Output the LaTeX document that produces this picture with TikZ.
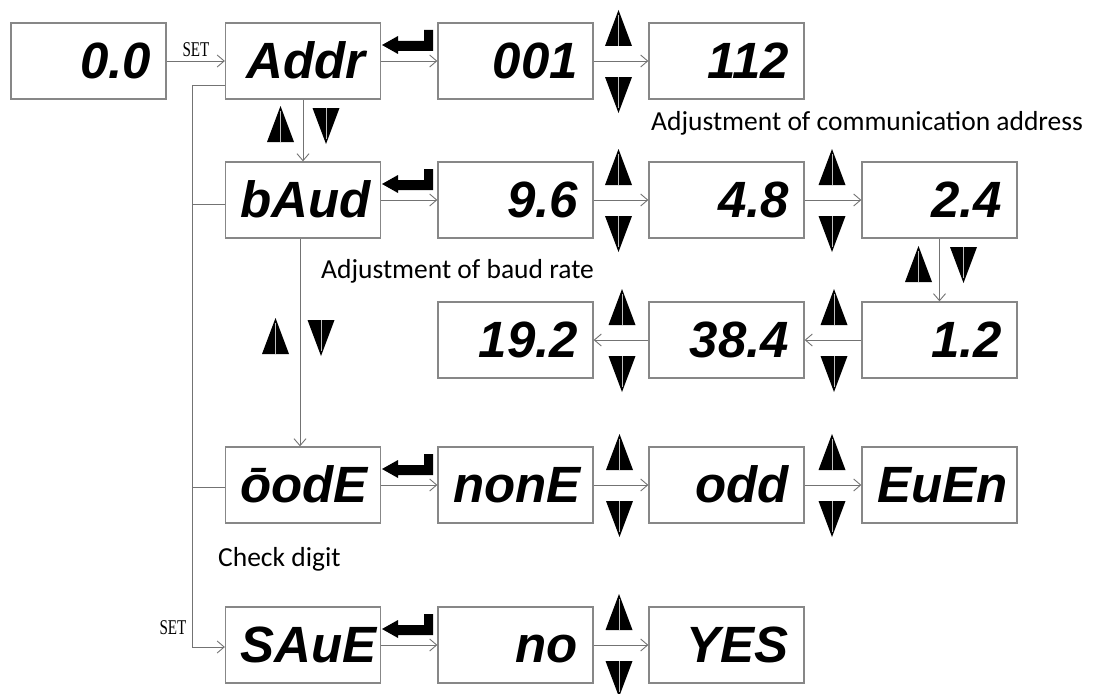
\documentclass[tikz,border=0pt]{standalone}
\usepackage{fontspec}
\usepackage{graphicx}
\usetikzlibrary{arrows.meta,calc}
\newfontfamily\segfont{Liberation Sans}
\newfontfamily\labfont{Carlito}
\newfontfamily\setfont{Liberation Serif}
\definecolor{boxgray}{RGB}{135,135,135}
\definecolor{linegray}{RGB}{115,115,115}
\newcommand\TriUp[2]{\fill[black] (#1-13.5,#2+36) -- (#1+13.5,#2+36) -- (#1,#2) -- cycle;
  \draw[white!75!black, line width=0.5pt] (#1,#2+5) -- (#1,#2+36);}
\newcommand\TriDown[2]{\fill[black] (#1-13.5,#2) -- (#1+13.5,#2) -- (#1,#2+36) -- cycle;
  \draw[white!75!black, line width=0.5pt] (#1,#2) -- (#1,#2+31);}
\newcommand\TriPair[2]{\TriUp{#1}{#2-51}\TriDown{#1}{#2+16}}
\newcommand\EnterKey[2]{\fill[black] (#1,#2) -- (#1,#2+21) -- (#1-35,#2+21) -- (#1-35,#2+24)
  -- (#1-51,#2+15) -- (#1-35,#2+6) -- (#1-35,#2+11) -- (#1-9,#2+11) -- (#1-9,#2) -- cycle;}
\tikzset{
  disp/.style={draw=boxgray, line width=1.3pt, minimum height=76pt, text width=125pt,
    text height=34pt, text depth=0pt,
    inner xsep=15pt, inner ysep=0pt, align=right,
    font=\segfont\bfseries\itshape\fontsize{51}{51}\selectfont},
  conn/.style={draw=linegray, line width=0.9pt,
    -{Straight Barb[length=7pt,width=12pt,line width=0.9pt]}},
  plain/.style={draw=linegray, line width=0.9pt},
  lab/.style={font=\labfont\fontsize{27.5}{27.5}\selectfont, anchor=base west, inner sep=0pt},
  setlab/.style={font=\setfont\fontsize{21}{21}\selectfont, inner sep=0pt},
}
\begin{document}
\begin{tikzpicture}[x=1pt,y=-1pt]
\useasboundingbox (0,0) rectangle (1094,693);
% display boxes
\node[disp] (n00)  at (88.5,61)  {0.0};
\node[disp] (addr) at (303,61)   {Addr};
\node[disp] (a001) at (515.5,61) {001};
\node[disp] (a112) at (726.5,61) {112};
\node[disp] (baud) at (303,200)   {bAud};
\node[disp] (b96)  at (515.5,200) {9.6};
\node[disp] (b48)  at (726.5,200) {4.8};
\node[disp] (b24)  at (939.5,200) {2.4};
\node[disp] (b12)  at (939.5,340) {1.2};
\node[disp] (b384) at (726.5,340) {38.4};
\node[disp] (b192) at (515.5,340) {19.2};
\node[disp] (mode) at (303,485)   {ōodE};
\node[disp] (none) at (515.5,485) {nonE};
\node[disp] (odd)  at (726.5,485) {odd};
\node[disp] (even) at (939.5,485) {EuEn};
\node[disp] (save) at (303,645)   {SAuE};
\node[disp] (no)   at (515.5,645) {no};
\node[disp] (yes)  at (726.5,645) {YES};
% labels
\node[setlab] (set1) at (196,50) {\scalebox{0.72}[1]{SET}};
\node[setlab] (set2) at (173,628) {\scalebox{0.72}[1]{SET}};
\node[lab] (l1) at (651,130) {Adjustment of communication address};
\node[lab] (l2) at (321,278) {Adjustment of baud rate};
\node[lab] (l3) at (218,566) {Check digit};
% connectors
\draw[conn] (n00) -- (addr);
\draw[conn] (addr) -- (a001);
\draw[conn] (a001) -- (a112);
\draw[conn] (addr) -- (baud);
\draw[conn] (baud) -- (b96);
\draw[conn] (b96) -- (b48);
\draw[conn] (b48) -- (b24);
\draw[conn] (b24) -- (b12);
\draw[conn] (b12) -- (b384);
\draw[conn] (b384) -- (b192);
\draw[conn] ([xshift=-3pt]baud.south) -- ([xshift=-3pt]mode.north);
\draw[conn] (mode) -- (none);
\draw[conn] (none) -- (odd);
\draw[conn] (odd) -- (even);
\draw[conn] (save) -- (no);
\draw[conn] (no) -- (yes);
% left bus
\coordinate (bus0) at (192,85);
\coordinate (bus1) at (192,204);
\coordinate (bus2) at (192,487);
\coordinate (bus3) at (192,647);
\draw[plain] (addr.west |- bus0) -- (bus0) -- (bus3);
\draw[conn] (bus3) -- (save.west |- bus3);
\draw[plain] (bus1) -- (baud.west |- bus1);
\draw[plain] (bus2) -- (mode.west |- bus2);
% enter keys
\EnterKey{433}{30}
\EnterKey{433}{169}
\EnterKey{433}{454}
\EnterKey{433}{614}
% up/down keys
\TriPair{618.5}{61}
\TriPair{618.5}{200}
\TriPair{832}{200}
\TriPair{622}{340}
\TriPair{834}{340}
\TriPair{619.5}{485}
\TriPair{832}{485}
\TriPair{619}{645}
\TriUp{280.5}{106}\TriDown{326}{108}
\TriUp{275.5}{318}\TriDown{321}{320}
\TriUp{918.5}{246}\TriDown{963.5}{247}
\end{tikzpicture}
\end{document}
